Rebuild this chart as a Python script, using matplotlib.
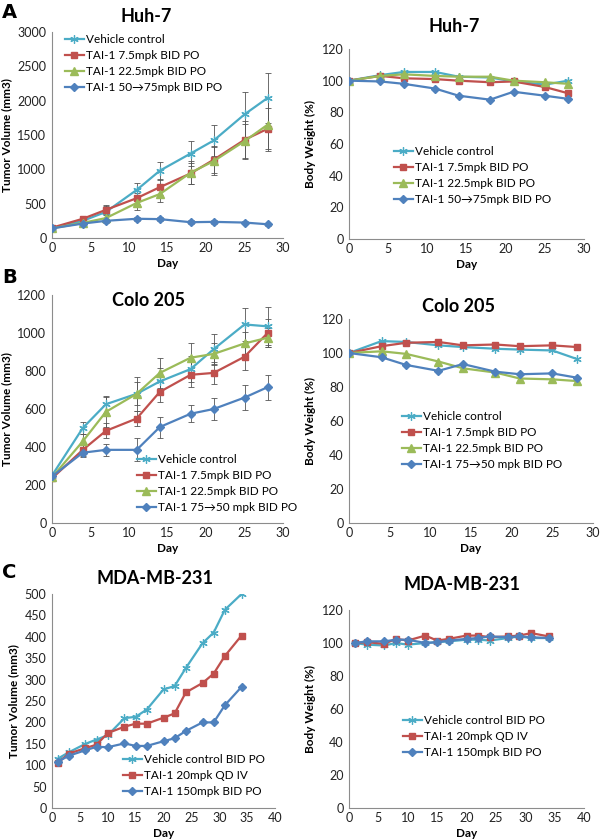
import numpy as np
import matplotlib
matplotlib.use("Agg")
import matplotlib.pyplot as plt

plt.rcParams['font.family'] = ['Lato', 'DejaVu Sans']

# ---- data ----
days_a = [0, 4, 7, 11, 14, 18, 21, 25, 28]
huh_tv_veh = [140, 250, 380, 700, 980, 1230, 1420, 1800, 2040]
huh_tv_veh_err = [20, 50, 100, 100, 130, 180, 220, 330, 360]
huh_tv_75 = [150, 280, 410, 580, 740, 940, 1140, 1430, 1590]
huh_tv_75_err = [20, 40, 60, 80, 120, 150, 200, 280, 300]
huh_tv_225 = [140, 220, 290, 510, 640, 950, 1120, 1410, 1650]
huh_tv_225_err = [20, 40, 50, 100, 120, 170, 200, 250, 380]
huh_tv_hi = [140, 210, 250, 280, 275, 230, 235, 225, 200]
huh_tv_hi_err = [15, 20, 25, 30, 30, 25, 25, 25, 25]

huh_bw_veh = [100, 103.5, 105.5, 105.5, 102.5, 102, 99.5, 97.5, 100]
huh_bw_75 = [100, 103, 101.5, 101, 100, 99, 99.5, 96, 92]
huh_bw_225 = [100, 103, 104, 103, 102.5, 102.5, 100, 99, 98]
huh_bw_hi = [100, 99.5, 98, 95, 90.5, 88, 93, 90.5, 88.5]

colo_tv_veh = [250, 500, 625, 680, 745, 810, 915, 1045, 1035]
colo_tv_veh_err = [15, 30, 45, 60, 70, 70, 80, 85, 100]
colo_tv_75 = [235, 385, 485, 550, 690, 780, 790, 875, 1000]
colo_tv_75_err = [15, 30, 40, 40, 55, 65, 60, 70, 75]
colo_tv_225 = [240, 430, 585, 680, 790, 870, 890, 945, 975]
colo_tv_225_err = [15, 40, 80, 90, 80, 80, 60, 60, 50]
colo_tv_hi = [245, 370, 385, 385, 505, 575, 600, 660, 715]
colo_tv_hi_err = [15, 20, 30, 60, 55, 45, 60, 65, 65]

colo_bw_veh = [100, 107, 106.5, 104.5, 103.5, 102.5, 102, 101.5, 96.5]
colo_bw_75 = [100, 104, 106, 106.5, 104.5, 105, 104, 104.5, 103.5]
colo_bw_225 = [100, 101, 99.5, 95, 91, 88.5, 85, 84.5, 83.5]
colo_bw_hi = [100, 97.5, 93, 89.5, 93.5, 89, 87.5, 88, 85.5]

days_c = [1, 3, 6, 8, 10, 13, 15, 17, 20, 22, 24, 27, 29, 31, 34]
mda_tv_veh = [115, 130, 150, 160, 170, 210, 213, 230, 277, 285, 327, 385, 410, 463, 500]
mda_tv_20 = [105, 127, 140, 148, 175, 190, 197, 197, 211, 221, 270, 292, 314, 355, 403]
mda_tv_150 = [108, 122, 135, 143, 142, 151, 145, 145, 156, 163, 180, 200, 200, 240, 283]

mda_bw_veh = [100, 99, 98.5, 100, 99, 100, 100.5, 101, 102, 102, 101.5, 103, 104, 103, 103]
mda_bw_20 = [100, 100.5, 99.5, 102.5, 101.5, 104.5, 101.5, 102.5, 104.5, 104.5, 103.5, 104, 104.5, 106, 104]
mda_bw_150 = [100, 101, 101, 102, 102, 100, 100.5, 101.5, 102.5, 103, 104, 103.5, 104, 103.5, 103]

labels_a = ['Vehicle control', 'TAI-1 7.5mpk BID PO', 'TAI-1 22.5mpk BID PO', 'TAI-1 50\u219275mpk BID PO']
labels_b = ['Vehicle control', 'TAI-1 7.5mpk BID PO', 'TAI-1 22.5mpk BID PO', 'TAI-1 75\u219250 mpk BID PO']
labels_c = ['Vehicle control BID PO', 'TAI-1 20mpk QD IV', 'TAI-1 150mpk BID PO']

# ---- styles ----
W, H = 600, 839
cyan, red, green, blue = '#4BACC6', '#C0504D', '#9BBB59', '#4F81BD'
star = (6, 2, 0)
sty_veh = dict(color=cyan, marker=star, ms=6, mew=0.9, lw=1.6)
sty_r = dict(color=red, marker='s', ms=5, lw=1.6)
sty_g = dict(color=green, marker='^', ms=5.5, lw=1.6)
sty_b = dict(color=blue, marker='D', ms=3.8, lw=1.6)
styles4 = [sty_veh, sty_r, sty_g, sty_b]
styles3 = [sty_veh, sty_r, sty_b]

fig = plt.figure(figsize=(W / 100, H / 100), dpi=100)


def box(x0, x1, ytop, ybot):
    return [x0 / W, 1 - ybot / H, (x1 - x0) / W, (ybot - ytop) / H]


def setup(ax, xmax, xstep, ymax, ystep, ylab):
    ax.set_xlim(0, xmax)
    ax.set_ylim(0, ymax)
    ax.set_xticks(np.arange(0, xmax + 1, xstep))
    ax.set_yticks(np.arange(0, ymax + 1, ystep))
    for s in ['top', 'right']:
        ax.spines[s].set_visible(False)
    for s in ['left', 'bottom']:
        ax.spines[s].set_color('#8c8c8c')
        ax.spines[s].set_linewidth(0.8)
    ax.tick_params(length=0, labelsize=9, colors='#222222')
    ax.tick_params(axis='y', pad=4)
    ax.tick_params(axis='x', pad=3)
    ax.set_xlabel('Day', fontsize=8.5, fontweight='bold', labelpad=3)
    ax.set_ylabel(ylab, fontsize=8.5, fontweight='bold', labelpad=4)


def plot_series(ax, x, ys, styles, errs=None):
    hs = []
    for i, y in enumerate(ys):
        st = styles[i]
        if errs is not None:
            ax.errorbar(x, y, yerr=errs[i], fmt='none', ecolor='#555555',
                        elinewidth=0.6, capsize=2, capthick=0.6, zorder=1)
        h, = ax.plot(x, y, zorder=2 + i, **st)
        hs.append(h)
    return hs


def legend(ax, hs, labels, xpx, ypx):
    ax.legend(hs, labels, loc='upper left', bbox_to_anchor=(xpx / W, 1 - ypx / H),
              bbox_transform=fig.transFigure, frameon=False, fontsize=8.5,
              handlelength=1.6, handletextpad=0.2, labelspacing=0.42,
              borderpad=0, borderaxespad=0)


def title(txt, xpx, ypx):
    fig.text(xpx / W, 1 - ypx / H, txt, fontsize=13, fontweight='bold',
             ha='center', va='center')


tv = 'Tumor Volume (mm3)'
bw = 'Body Weight (%)'

# A
ax = fig.add_axes(box(52, 283, 32, 238))
hs = plot_series(ax, days_a, [huh_tv_veh, huh_tv_75, huh_tv_225, huh_tv_hi], styles4,
                 [huh_tv_veh_err, huh_tv_75_err, huh_tv_225_err, huh_tv_hi_err])
setup(ax, 30, 5, 3000, 500, tv)
legend(ax, hs, labels_a, 65, 34)
title('Huh-7', 146, 17)

ax = fig.add_axes(box(349, 584, 49, 239))
hs = plot_series(ax, days_a, [huh_bw_veh, huh_bw_75, huh_bw_225, huh_bw_hi], styles4)
setup(ax, 30, 5, 120, 20, bw)
legend(ax, hs, labels_a, 394, 146)
title('Huh-7', 454, 27)

# B
ax = fig.add_axes(box(52, 283, 295, 523))
hs = plot_series(ax, days_a, [colo_tv_veh, colo_tv_75, colo_tv_225, colo_tv_hi], styles4,
                 [colo_tv_veh_err, colo_tv_75_err, colo_tv_225_err, colo_tv_hi_err])
setup(ax, 30, 5, 1200, 200, tv)
legend(ax, hs, labels_b, 137, 454)
title('Colo 205', 148, 300)

ax = fig.add_axes(box(349, 593, 319, 523))
hs = plot_series(ax, days_a, [colo_bw_veh, colo_bw_75, colo_bw_225, colo_bw_hi], styles4)
setup(ax, 30, 5, 120, 20, bw)
legend(ax, hs, labels_b, 402, 411)
title('Colo 205', 459, 307)

# C
ax = fig.add_axes(box(52, 275, 594, 808))
hs = plot_series(ax, days_c, [mda_tv_veh, mda_tv_20, mda_tv_150], styles3)
setup(ax, 40, 5, 500, 50, tv)
legend(ax, hs, labels_c, 123, 754)
title('MDA-MB-231', 155, 578)

ax = fig.add_axes(box(349, 584, 610, 808))
hs = plot_series(ax, days_c, [mda_bw_veh, mda_bw_20, mda_bw_150], styles3)
setup(ax, 40, 5, 120, 20, bw)
legend(ax, hs, labels_c, 403, 715)
title('MDA-MB-231', 462, 585)

# panel letters
for lab, ypx in [('A', 13), ('B', 277), ('C', 572)]:
    fig.text(2 / W, 1 - ypx / H, lab, fontsize=14, fontweight='bold',
             ha='left', va='center', family='DejaVu Sans')

fig.savefig('out.png', dpi=100)
